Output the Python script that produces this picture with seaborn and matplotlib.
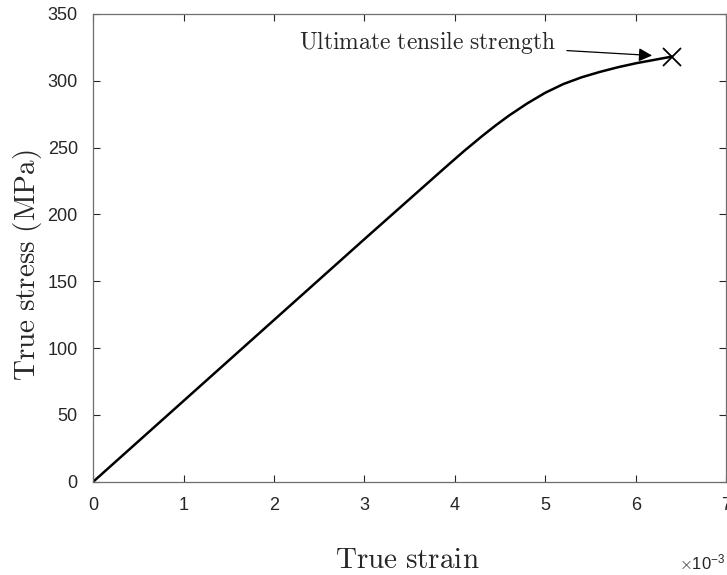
import numpy as np
import pandas as pd
import matplotlib
matplotlib.use("Agg")
import matplotlib.pyplot as plt
import seaborn as sns

# Data (strain axis labelled in units of 1e-3)
strain = [0.0, 0.001, 0.002, 0.003, 0.0035, 0.0039, 0.0041, 0.0043, 0.00445, 0.0046, 0.0048,
          0.005, 0.0052, 0.0054, 0.0056, 0.0058, 0.006, 0.0062, 0.0064]
stress = [0.0, 60.5, 121.0, 181.5, 211.5, 235.5, 247.3, 258.5, 266.5, 274.0, 283.0,
          291.0, 297.5, 302.5, 306.5, 310.0, 313.0, 315.5, 318.0]
uts_strain = [0.0064]
uts_stress = [318.0]
x_ticks = [0, 1, 2, 3, 4, 5, 6, 7]
y_ticks = [0, 50, 100, 150, 200, 250, 300, 350]

sns.set_style("white")
plt.rcParams['font.family'] = ['Liberation Sans', 'DejaVu Sans']
plt.rcParams['mathtext.fontset'] = 'cm'

df = pd.DataFrame({"strain": strain, "stress": stress})

fig = plt.figure(figsize=(7.27, 5.75), dpi=100)
ax = fig.add_axes([0.128, 0.162, 0.871, 0.814])

sns.lineplot(data=df, x="strain", y="stress", color="black", linewidth=1.8, ax=ax, sort=False)
ax.plot(uts_strain, uts_stress, marker="x", color="black", markersize=13, markeredgewidth=1.3, linestyle="none")

ax.set_xlim(0, 0.007)
ax.set_ylim(0, 350)
ax.set_xticks([t * 1e-3 for t in x_ticks])
ax.set_xticklabels([str(t) for t in x_ticks])
ax.set_yticks(y_ticks)

ax.tick_params(direction="in", length=5, width=0.8, colors="#262626", labelsize=13,
               top=True, right=True, bottom=True, left=True, pad=11)
for s in ax.spines.values():
    s.set_color("#6e6e6e")
    s.set_linewidth(0.9)

ax.set_xlabel(r"$\mathrm{True\ strain}$", fontsize=21, color="#262626")
ax.xaxis.set_label_coords(0.497, -0.137)
ax.set_ylabel(r"$\mathrm{True\ stress\ (MPa)}$", fontsize=21, color="#262626")
ax.yaxis.set_label_coords(-0.078, 0.464)

# axis exponent, MATLAB style
fig.text(0.998, 0.004, r"$\times\mathregular{10^{-3}}$", fontsize=12, color="#262626",
         ha="right", va="bottom")

ax.annotate(r"$\mathrm{Ultimate\ tensile\ strength}$", xy=(0.00618, 318.8), xytext=(0.00228, 328.5),
            fontsize=17, color="#262626", va="center", ha="left",
            arrowprops=dict(arrowstyle="-|>", color="black", lw=0.9, mutation_scale=20,
                            shrinkA=5, shrinkB=0))

fig.savefig("out.png", dpi=100)
